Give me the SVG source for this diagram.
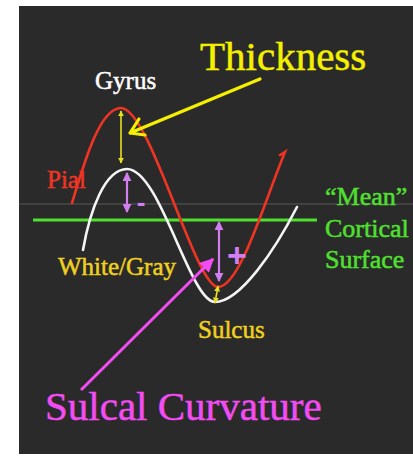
<svg xmlns="http://www.w3.org/2000/svg" width="413" height="457" viewBox="0 0 413 457">
<defs>
<style>
.t{font-family:"Liberation Serif","Times New Roman",serif;stroke-width:0.5;}
.curve{fill:none;stroke-width:2.6;stroke-linecap:round;}
.yl{stroke:#e8e020;stroke-width:1.6;fill:none;}
.pu{stroke:#d37ef0;stroke-width:2.2;fill:none;}
</style>
<marker id="ay" viewBox="0 0 10 10" refX="9" refY="5" markerWidth="6" markerHeight="6" orient="auto-start-reverse" markerUnits="userSpaceOnUse"><path d="M0,0 L10,5 L0,10 z" fill="#e8e020"/></marker>
<marker id="ap" viewBox="0 0 10 10" refX="9" refY="5" markerWidth="9" markerHeight="9" orient="auto-start-reverse" markerUnits="userSpaceOnUse"><path d="M0,0 L10,5 L0,10 z" fill="#d37ef0"/></marker>
<marker id="am" viewBox="0 0 10 10" refX="9" refY="5" markerWidth="16" markerHeight="14" orient="auto" markerUnits="userSpaceOnUse"><path d="M0,0 L10,5 L0,10 z" fill="#f24cf2"/></marker>
</defs>
<rect x="0" y="0" width="413" height="457" fill="#ffffff"/>
<rect x="19" y="6" width="394" height="448" fill="#2a2a2a"/>
<line x1="19" y1="204" x2="413" y2="204" stroke="#585858" stroke-width="1"/>
<g id="mean-line"><line x1="33" y1="220" x2="317" y2="220" stroke="#50e030" stroke-width="3"/></g>
<g id="pial-curve"><path class="curve" stroke="#f03424" d="M72,203 C85,160 100,108 121,108 C150,108 195,287 218,287 C240,287 265,200 285,152 L280,155"/></g>
<g id="white-curve"><path class="curve" stroke="#f4f4f4" d="M83,250 C90,210 105,169 127,169 C160,169 190,302 215,302 C240,302 275,250 297,207"/></g>
<g id="connectors">
<line class="yl" x1="121" y1="111" x2="121" y2="163" marker-start="url(#ay)" marker-end="url(#ay)"/>
<line class="yl" x1="218" y1="286" x2="215" y2="303" marker-start="url(#ay)" marker-end="url(#ay)"/>
<line class="pu" x1="127" y1="173" x2="127" y2="212" marker-start="url(#ap)" marker-end="url(#ap)"/>
<line class="pu" x1="219" y1="222" x2="219" y2="281" marker-start="url(#ap)" marker-end="url(#ap)"/>
<path d="M260,79 L130,133 M139,119 L130,133 L145,135" fill="none" stroke="#f4f000" stroke-width="3.2" stroke-linecap="round" stroke-linejoin="round"/>
<line x1="81" y1="390" x2="213" y2="259" stroke="#f24cf2" stroke-width="3" marker-end="url(#am)"/>
</g>
<g id="labels">
<text class="t" x="200" y="70" font-size="41" fill="#f4f000" stroke="#f4f000">Thickness</text>
<text class="t" x="95" y="89" font-size="25" fill="#ffffff" stroke="#ffffff">Gyrus</text>
<text class="t" x="47" y="188" font-size="25" fill="#f03424" stroke="#f03424">Pial</text>
<text class="t" x="58" y="275" font-size="25" fill="#f0d020" stroke="#f0d020">White/Gray</text>
<text class="t" x="325" y="205" font-size="26" fill="#50e030" stroke="#50e030">“Mean”</text>
<text class="t" x="325" y="237" font-size="26" fill="#50e030" stroke="#50e030">Cortical</text>
<text class="t" x="325" y="268" font-size="26" fill="#50e030" stroke="#50e030">Surface</text>
<text class="t" x="198" y="338" font-size="25" fill="#f0d020" stroke="#f0d020">Sulcus</text>
<text class="t" x="45" y="420" font-size="41" fill="#f24cf2" stroke="#f24cf2">Sulcal Curvature</text>
<text x="237" y="267" font-family="Liberation Sans, Arial, sans-serif" font-weight="bold" font-size="34" fill="#d37ef0" text-anchor="middle">+</text>
<text x="141" y="211" font-family="Liberation Sans, Arial, sans-serif" font-weight="bold" font-size="26" fill="#d37ef0" text-anchor="middle">-</text>
</g>
</svg>
